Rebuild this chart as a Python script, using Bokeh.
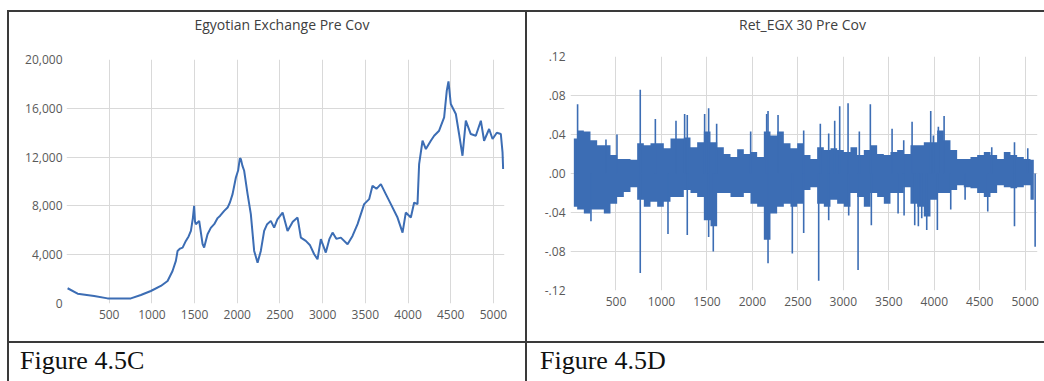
from bokeh.plotting import figure
from bokeh.models import Range1d, FixedTicker, Div, Spacer, NumeralTickFormatter
from bokeh.layouts import row, column
from bokeh.embed import file_html
from bokeh.resources import INLINE

# ---------------- data ----------------
egx_title = "Egyotian Exchange Pre Cov"
ret_title = "Ret_EGX 30 Pre Cov"
caption_left = "Figure 4.5C"
caption_right = "Figure 4.5D"

x_ticks = [500, 1000, 1500, 2000, 2500, 3000, 3500, 4000, 4500, 5000]
egx_y_ticks = [0, 4000, 8000, 12000, 16000, 20000]
ret_y_ticks = [-0.12, -0.08, -0.04, 0.0, 0.04, 0.08, 0.12]

egx_obs = [13, 130, 324, 481, 754, 871, 988, 1105, 1184, 1242,
           1281, 1301, 1330, 1360, 1398, 1430, 1457, 1480, 1495, 1505, 1515, 1554, 1594, 1612,
           1652, 1690, 1730, 1770, 1800, 1847, 1887, 1915, 1945, 1984, 2010, 2030, 2042, 2060, 2081, 2121, 2159,
           2198, 2238, 2276, 2315, 2350, 2393, 2432, 2470, 2531, 2589, 2650, 2706, 2745,
           2803, 2850, 2901, 2940, 2979, 3037, 3080, 3116, 3160, 3213, 3292, 3350, 3409,
           3486, 3545, 3584, 3630, 3682, 3740, 3799, 3877, 3936, 3974, 4033,
           4072, 4111, 4130, 4170, 4209, 4267, 4306, 4364, 4423, 4454,
           4474, 4501, 4560, 4598, 4638, 4677, 4735, 4794, 4853, 4891,
           4950, 4990, 5040, 5087, 5107, 5114]
egx_val = [1250, 805, 616, 420, 420, 698, 1026, 1437, 1847, 2668,
           3489, 4310, 4500, 4581, 5131, 5500, 5952, 7000, 8005, 6700, 6502, 6773, 4860, 4581,
           5681, 6200, 6502, 7000, 7200, 7594, 7865, 8300, 8965, 10328, 10900, 11900, 11839, 11300, 10878, 8965, 7323,
           4310, 3350, 4310, 5952, 6500, 6773, 6223, 6900, 7455, 5952, 6700, 7044, 5402,
           5131, 4800, 4039, 3629, 5271, 4171, 5300, 5813, 5300, 5402, 4860, 5542, 6502,
           8144, 8555, 9647, 9400, 9786, 8965, 8144, 7044, 5813, 7455, 7044,
           8276, 8144, 11428, 13341, 12660, 13341, 13752, 14163, 15254, 17446,
           18210, 16354, 15533, 13891, 12110, 14984, 13891, 13752, 14984, 13341,
           14302, 13481, 14000, 13891, 12381, 11018]

# returns: upper / lower envelope of the dense band, per block of observations
ret_block = 73.3
ret_hi = [.036, .044, .043, .034, .029, .029, .019, .015, .015, .014,
          .031, .029, .031, .031, .026, .036, .036, .037, .027, .032,
          .043, .032, .027, .020, .017, .025, .020, .022, .017, .043,
          .039, .043, .031, .026, .031, .019, .015, .027, .024, .026,
          .024, .022, .027, .019, .024, .029, .020, .019, .022, .024,
          .020, .029, .029, .032, .032, .044, .034, .024, .015, .015,
          .017, .019, .022, .019, .015, .022, .019, .017, .015, .014]
ret_lo = [-.034, -.037, -.041, -.037, -.037, -.041, -.031, -.024, -.019, -.014,
          -.027, -.034, -.029, -.034, -.029, -.024, -.024, -.017, -.020, -.024,
          -.048, -.054, -.020, -.020, -.024, -.024, -.020, -.031, -.034, -.068,
          -.041, -.034, -.031, -.034, -.031, -.017, -.014, -.031, -.034, -.027,
          -.031, -.034, -.020, -.024, -.034, -.020, -.024, -.031, -.020, -.020,
          -.014, -.031, -.034, -.044, -.027, -.020, -.020, -.017, -.012, -.014,
          -.015, -.020, -.024, -.020, -.012, -.014, -.015, -.014, -.012, -.027]
# isolated spikes (observation, return)
spike_obs = [78, 225, 390, 511, 767, 767, 933, 1072, 1160,
             1255, 1284, 1284, 1475, 1519, 1519, 1570, 1607, 1981, 2157, 2172, 2172, 2282, 2439,
             2564, 2564, 2729, 2747, 2839, 2839, 2905, 2960, 3052, 3059, 3162, 3176, 3297, 3308,
             3536, 3602, 3664, 3668, 3756, 3785,
             3825, 3862, 3917, 3961, 3990, 4034, 4045, 4108, 4181, 4339, 4588, 4632, 4882, 4882,
             5028, 5109]
spike_val = [.071, -.049, .035, .040, .086, -.102, .056, -.062, .054,
             .061, .060, -.063, .061, .067, -.065, -.080, .051, .043, .061, .064, -.092, .060, -.082,
             .044, -.061, -.110, .051, .041, -.048, .054, .069, .072, -.043, -.099, .043, .071, -.053,
             .046, -.041, .034, -.043, .053, -.053,
             -.054, -.046, -.058, .064, .039, -.058, .048, .059, -.037, -.027, -.039, .027, .032, -.054,
             .026, -.075]

# ---------------- styling ----------------
BLUE = "#3C6DB4"
GRID = "#D9D9D9"
TICK_TXT = "#595959"
TITLE_TXT = "#404040"
BORDER = "#3a3a3a"
FONT = "Open Sans"
TOP_H = 22          # height of the title strip above each chart
FIG_H = 329 - TOP_H


def style(p, standoff_x, standoff_y):
    p.outline_line_color = None
    p.background_fill_color = "white"
    p.border_fill_color = "white"
    for ax in p.axis:
        ax.axis_line_color = None
        ax.major_tick_line_color = None
        ax.minor_tick_line_color = None
        ax.major_tick_in = 0
        ax.major_tick_out = 0
        ax.major_label_text_font = FONT
        ax.major_label_text_font_size = "12px"
        ax.major_label_text_color = TICK_TXT
    p.xaxis.major_label_standoff = standoff_x
    p.yaxis.major_label_standoff = standoff_y
    p.xgrid.grid_line_color = GRID
    p.ygrid.grid_line_color = GRID
    p.xgrid.grid_line_width = 1
    p.ygrid.grid_line_width = 1


# left chart
pL = figure(width=516, height=FIG_H,
            x_range=Range1d(0, 5130), y_range=Range1d(0, 20000),
            min_border_left=57, min_border_right=21, min_border_top=25, min_border_bottom=38,
            output_backend="svg", toolbar_location=None, margin=0)
pL.xaxis.ticker = FixedTicker(ticks=x_ticks)
pL.yaxis.ticker = FixedTicker(ticks=egx_y_ticks)
pL.yaxis.formatter = NumeralTickFormatter(format="0,0")
style(pL, 6, 4)
pL.line(egx_obs, egx_val, line_color=BLUE, line_width=2)

# right chart
pR = figure(width=515, height=FIG_H,
            x_range=Range1d(0, 5135), y_range=Range1d(-0.12, 0.12),
            min_border_left=43, min_border_right=5, min_border_top=22, min_border_bottom=51,
            output_backend="svg", toolbar_location=None, margin=0)
pR.xaxis.ticker = FixedTicker(ticks=x_ticks)
pR.yaxis.ticker = FixedTicker(ticks=ret_y_ticks)
pR.yaxis.major_label_overrides = {v: ("-" if v < 0 else "") + f"{abs(v):.2f}"[1:] for v in ret_y_ticks}
style(pR, 6, 5)
block_centers = [ret_block * (k + 0.5) for k in range(len(ret_hi))]
pR.varea_step(x=block_centers, y1=ret_lo, y2=ret_hi, step_mode="center", fill_color=BLUE)
pR.segment(x0=spike_obs, y0=[0] * len(spike_obs), x1=spike_obs, y1=spike_val,
           line_color=BLUE, line_width=1.6)


def chart_title(txt, w, ml, tw):
    html = ('<div style="margin-left:%dpx;width:%dpx;margin-top:4px;text-align:center;'
            'font-family:\'Open Sans\';font-size:14px;line-height:18px;color:%s;white-space:nowrap">%s</div>'
            % (ml, tw, TITLE_TXT, txt))
    return Div(text=html, width=w, height=TOP_H, margin=0)


def vline(h):
    return Div(width=2, height=h, margin=0, styles={"background-color": BORDER})


def hline():
    return row(Spacer(width=7, height=2, margin=0),
               Div(width=1037, height=2, margin=0, styles={"background-color": BORDER}),
               margin=0, spacing=0)


def caption(txt, w, ml):
    html = ('<div style="margin-left:%dpx;margin-top:3px;font-family:\'Liberation Serif\';'
            'font-size:26px;line-height:30px;color:#111;white-space:nowrap">%s</div>' % (ml, txt))
    return Div(text=html, width=w, height=38, margin=0)


cellL = column(chart_title(egx_title, 516, 57, 432), pL, margin=0, spacing=0)
cellR = column(chart_title(ret_title, 515, 43, 465), pR, margin=0, spacing=0)

layout = column(
    Spacer(width=1044, height=10, margin=0),
    hline(),
    row(Spacer(width=7, height=329, margin=0), vline(329), cellL, vline(329), cellR,
        Spacer(width=2, height=329, margin=0), margin=0, spacing=0),
    hline(),
    row(Spacer(width=7, height=38, margin=0), vline(38), caption(caption_left, 516, 11), vline(38),
        caption(caption_right, 515, 13), Spacer(width=2, height=38, margin=0), margin=0, spacing=0),
    margin=0, spacing=0,
)

open("out.html", "w").write(file_html(layout, INLINE))
